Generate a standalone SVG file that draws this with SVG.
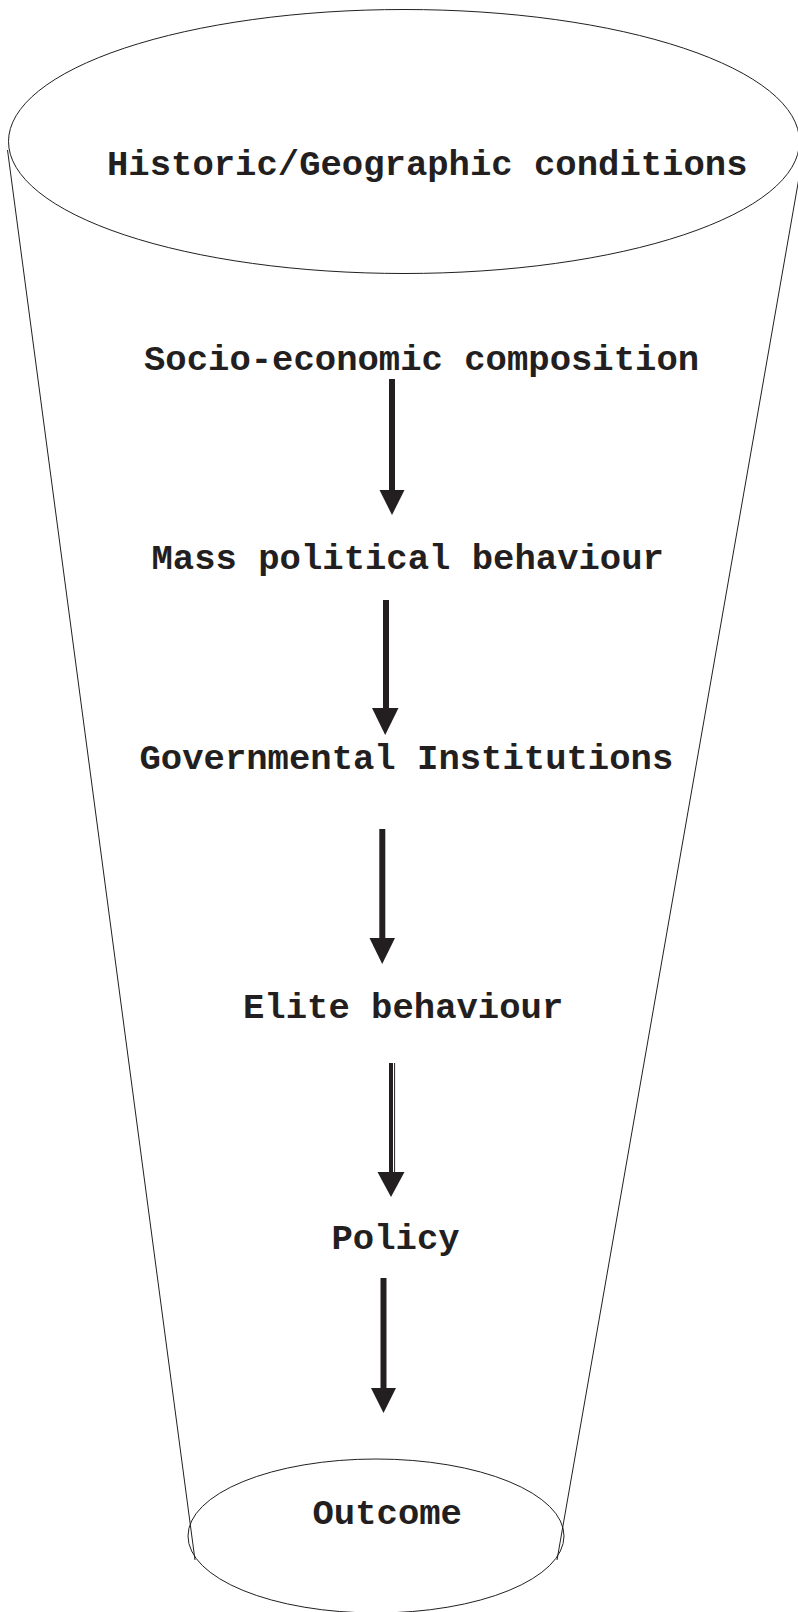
<svg xmlns="http://www.w3.org/2000/svg" width="798" height="1612" viewBox="0 0 798 1612">
<defs>
<style>
.outline{fill:none;stroke:#231f20;stroke-width:1}
.lbl{font-family:"Liberation Mono","Courier New",monospace;font-weight:bold;font-size:35.6px;fill:#231f20}
.shaft{stroke:#231f20;stroke-width:6;fill:none}
.head{fill:#231f20}
</style>
</defs>
<rect x="0" y="0" width="798" height="1612" fill="#ffffff"/>
<g id="funnel">
<line class="outline" x1="7.5" y1="150" x2="195" y2="1560"/>
<line class="outline" x1="800" y1="172" x2="557" y2="1560"/>
</g>
<g id="node-historic">
<ellipse class="outline" cx="404" cy="141.5" rx="395.5" ry="132"/>
<text class="lbl" x="107" y="175">Historic/Geographic conditions</text>
</g>
<g id="node-socio"><text class="lbl" x="144" y="370">Socio-economic composition</text></g>
<g id="node-mass"><text class="lbl" x="151.5" y="569">Mass political behaviour</text></g>
<g id="node-gov"><text class="lbl" x="139.5" y="769">Governmental Institutions</text></g>
<g id="node-elite"><text class="lbl" x="243" y="1018">Elite behaviour</text></g>
<g id="node-policy"><text class="lbl" x="331.5" y="1249">Policy</text></g>
<g id="node-outcome">
<ellipse class="outline" cx="376" cy="1536" rx="188" ry="77"/>
<text class="lbl" x="312.5" y="1524">Outcome</text>
</g>
<g id="connectors">
<line class="shaft" x1="392" y1="379" x2="392" y2="492"/>
<polygon class="head" points="379.5,490 404.5,490 392,515"/>
<line class="shaft" x1="386" y1="600" x2="386" y2="710"/>
<polygon class="head" points="372,708 398.5,708 385.2,735"/>
<line class="shaft" x1="382.3" y1="829" x2="382.3" y2="940"/>
<polygon class="head" points="369.5,938 395,938 382.2,964"/>
<line class="shaft" style="stroke-width:4" x1="391" y1="1063" x2="391" y2="1174"/>
<line class="outline" x1="394.6" y1="1063" x2="394.6" y2="1174"/>
<polygon class="head" points="377.5,1172 404.5,1172 391,1197"/>
<line class="shaft" x1="383.5" y1="1278" x2="383.5" y2="1390"/>
<polygon class="head" points="371,1388 396,1388 383.5,1413"/>
</g>
</svg>
